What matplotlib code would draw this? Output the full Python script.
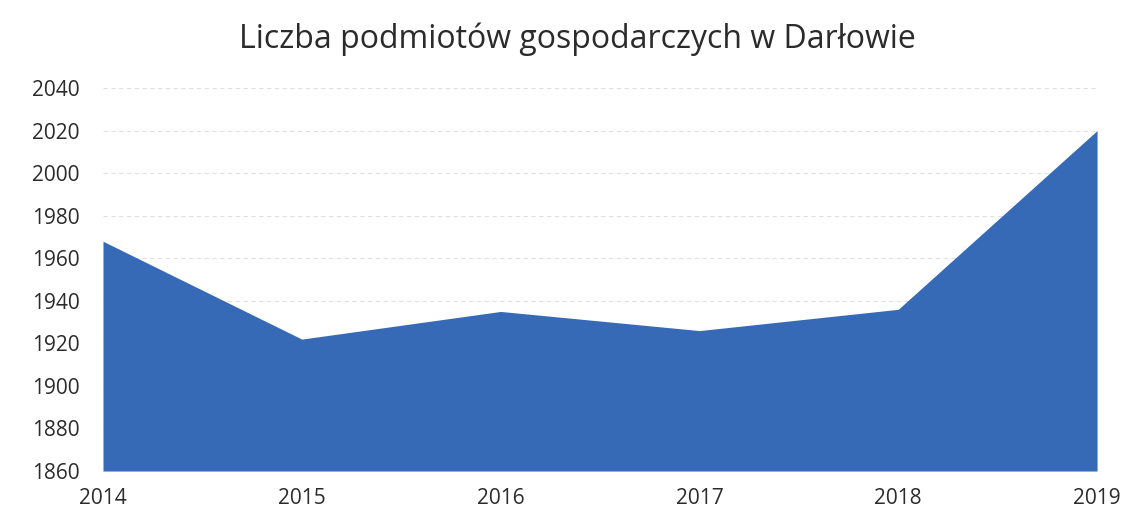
import matplotlib
matplotlib.use("Agg")
import matplotlib.pyplot as plt

years = [2014, 2015, 2016, 2017, 2018, 2019]
values = [1968, 1922, 1935, 1926, 1936, 2020]
yticks = [1860, 1880, 1900, 1920, 1940, 1960, 1980, 2000, 2020, 2040]
title = "Liczba podmiotów gospodarczych w Darłowie"

plt.rcParams['font.family'] = ['Open Sans', 'DejaVu Sans']

fig = plt.figure(figsize=(11.43, 5.24), dpi=100)
ax = fig.add_axes([0.0901, 0.1011, 0.8697, 0.7309])

ax.fill_between(years, values, yticks[0], color="#3669B6", linewidth=0, zorder=2)
ax.set_xlim(years[0], years[-1])
ax.set_ylim(yticks[0], yticks[-1])
ax.set_yticks(yticks)
ax.set_xticks(years)
ax.set_xticklabels([str(y) for y in years])
ax.grid(axis='y', color='#e0e0e0', linewidth=0.8, linestyle=(0, (4, 3)), zorder=1)
for s in ax.spines.values():
    s.set_visible(False)
ax.tick_params(length=0, labelsize=15, colors='#2b2b2b')
ax.tick_params(axis='x', pad=12)
ax.tick_params(axis='y', pad=17)

fig.text(0.505, 0.925, title, ha='center', va='center', fontsize=23, color='#2b2b2b')

fig.savefig("out.png", dpi=100, facecolor='white')
